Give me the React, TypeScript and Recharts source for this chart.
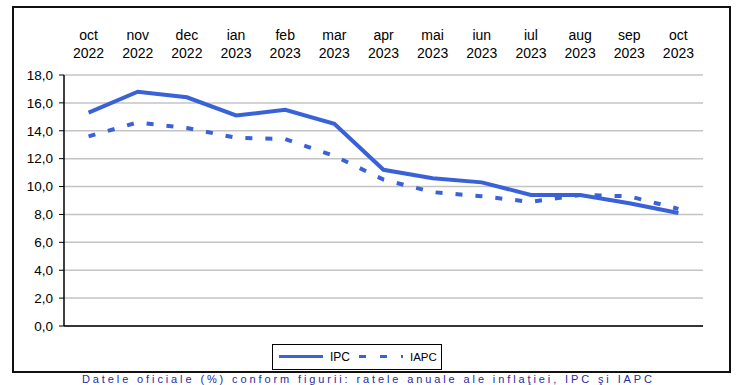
import React from "react";
import { LineChart, Line, XAxis, YAxis, CartesianGrid, Legend } from "recharts";

const months = ["oct", "nov", "dec", "ian", "feb", "mar", "apr", "mai", "iun", "iul", "aug", "sep", "oct"];
const years = ["2022", "2022", "2022", "2023", "2023", "2023", "2023", "2023", "2023", "2023", "2023", "2023", "2023"];
const ipc = [15.3, 16.8, 16.4, 15.1, 15.5, 14.5, 11.2, 10.6, 10.3, 9.4, 9.4, 8.8, 8.1];
const iapc = [13.6, 14.6, 14.2, 13.5, 13.4, 12.2, 10.5, 9.6, 9.3, 8.9, 9.4, 9.3, 8.4];
const yTicks = [0, 2, 4, 6, 8, 10, 12, 14, 16, 18];
const bottomTicks = [0, 1, 2, 3, 4, 5, 6, 7, 8, 9, 10, 11, 12, 13];
const topTicks = months.map((_, i) => i + 0.5);

const data = months.map((m, i) => ({ x: i + 0.5, IPC: ipc[i], IAPC: iapc[i] }));

const BLUE = "#3a62d8";
const FONT = "'Liberation Sans', Arial, sans-serif";

const TopTick = (props: any) => {
  const { x, y, payload } = props;
  const i = Math.round(payload.value - 0.5);
  return (
    <text textAnchor="middle" fontSize={14} fontFamily={FONT} fill="#000">
      <tspan x={x} y={y - 35}>{months[i]}</tspan>
      <tspan x={x} y={y - 17}>{years[i]}</tspan>
    </text>
  );
};

const LegendBox = () => (
  <svg width={171} height={27} style={{ display: "block" }}>
    <rect x={0.5} y={0.5} width={169} height={25} fill="#fff" stroke="#000" strokeWidth={1} />
    <line x1={7} y1={12.5} x2={51} y2={12.5} stroke={BLUE} strokeWidth={3} />
    <text x={58} y={17} fontSize={12} fontFamily={FONT} fill="#000">IPC</text>
    <line x1={87} y1={12.5} x2={131} y2={12.5} stroke={BLUE} strokeWidth={3} strokeDasharray="7 14" />
    <text x={138} y={17} fontSize={11.5} fontFamily={FONT} fill="#000">IAPC</text>
  </svg>
);

export default function App() {
  return (
    <div style={{ position: "absolute", left: 0, top: 0, width: 743, height: 385, background: "#fff", overflow: "hidden" }}>
      <div
        style={{
          position: "absolute",
          left: 12,
          top: 6,
          width: 719,
          height: 367,
          border: "2px solid #111",
          boxSizing: "border-box",
        }}
      />
      <div style={{ position: "absolute", left: 0, top: 0 }}>
        <LineChart width={743} height={385} data={data} margin={{ top: 20, right: 40, bottom: 49, left: 14 }}>
          <CartesianGrid horizontal={true} vertical={false} stroke="#c4c4c4" strokeWidth={1.5} xAxisId="bottom" />
          <XAxis
            xAxisId="top"
            orientation="top"
            type="number"
            dataKey="x"
            domain={[0, 13]}
            ticks={topTicks}
            interval={0}
            axisLine={false}
            tickLine={false}
            tickSize={0}
            tickMargin={0}
            height={55}
            tick={<TopTick />}
          />
          <XAxis
            xAxisId="bottom"
            orientation="bottom"
            type="number"
            dataKey="x"
            domain={[0, 13]}
            ticks={bottomTicks}
            interval={0}
            tick={false}
            axisLine={{ stroke: "#000", strokeWidth: 1.5 }}
            tickLine={{ stroke: "#000", strokeWidth: 1 }}
            tickSize={6}
            height={10}
          />
          <YAxis
            type="number"
            domain={[0, 18]}
            ticks={yTicks}
            interval={0}
            width={50}
            axisLine={{ stroke: "#000", strokeWidth: 1.5 }}
            tickLine={{ stroke: "#000", strokeWidth: 1 }}
            tickSize={5}
            tickMargin={6}
            tick={{ fontSize: 13.5, fontFamily: FONT, fill: "#000" }}
            tickFormatter={(v: number) => v.toFixed(1).replace(".", ",")}
          />
          <Line
            xAxisId="bottom"
            type="linear"
            dataKey="IPC"
            stroke={BLUE}
            strokeWidth={4}
            dot={false}
            activeDot={false}
            isAnimationActive={false}
          />
          <Line
            xAxisId="bottom"
            type="linear"
            dataKey="IAPC"
            stroke={BLUE}
            strokeWidth={4}
            strokeDasharray="7 13"
            dot={false}
            activeDot={false}
            isAnimationActive={false}
          />
          <Legend
            layout="horizontal"
            verticalAlign="middle"
            align="center"
            wrapperStyle={{ left: 272, top: 344, width: 171, height: 27 }}
            content={() => <LegendBox />}
          />
        </LineChart>
      </div>
      <svg width={743} height={13} style={{ position: "absolute", left: 0, top: 372 }}>
        <text
          x={82}
          y={11}
          fontSize={11}
          fontFamily={FONT}
          fill="#2a2a9c"
          textLength={570}
          lengthAdjust="spacing"
        >
          Datele oficiale (%) conform figurii: ratele anuale ale inflaţiei, IPC şi IAPC
        </text>
      </svg>
    </div>
  );
}
